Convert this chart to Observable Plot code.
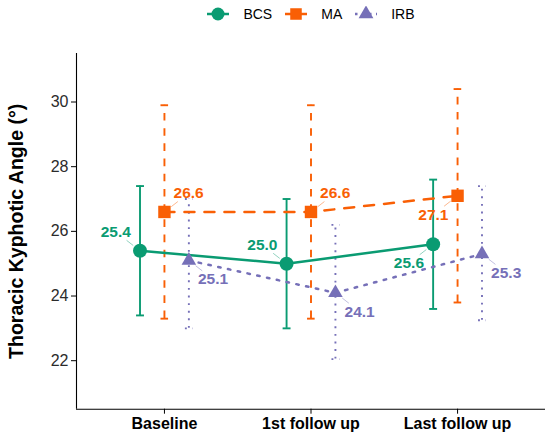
<!DOCTYPE html>
<html><head><meta charset="utf-8">
<script src="https://cdn.jsdelivr.net/npm/d3@7"></script>
<script src="https://cdn.jsdelivr.net/npm/@observablehq/plot@0.6"></script>
<style>
body{margin:0;background:#fff;font-family:"Liberation Sans",Arial,sans-serif;}
#legend{height:28px;display:flex;align-items:center;justify-content:center;padding-left:76px;padding-right:5px;font-size:14px;color:#000;}
.item{display:flex;align-items:center;margin:0 6px;}
.item svg{margin-right:13px;display:block}
#chart svg g[aria-label^="x-axis"] text{font-weight:bold;fill:#000}
#chart svg g[aria-label^="y-axis"] text{fill:#2b2b2b}
</style></head><body>
<div id="legend"></div><div id="chart"></div>
<script>
// ---- data ----
const categories = ["Baseline", "1st follow up", "Last follow up"];
const series = ["BCS", "MA", "IRB"];
const bcsMean = [25.4, 25.0, 25.6];
const bcsLow  = [23.4, 23.0, 23.6];
const bcsHigh = [27.4, 27.0, 27.6];
const maMean  = [26.6, 26.6, 27.1];
const maLow   = [23.3, 23.3, 23.8];
const maHigh  = [29.9, 29.9, 30.4];
const irbMean = [25.1, 24.1, 25.3];
const irbLow  = [23.0, 22.05, 23.25];
const irbHigh = [27.0, 26.2, 27.4];

// ---- styling / layout config ----
const colors = ["#0a9b72", "#f95f05", "#7670b8"];
const dodge = [-1/6, 0, 1/6];           // position_dodge(0.5)
const labelDir = [                       // label nudge directions [x, y]
  [[-1, 1], [-1, 1], [-1, -1]],
  [[1, 1], [1, 1], [-1, -1]],
  [[1, -1], [1, -1], [1, -1]]
];
const nudgeX = 0.165, nudgeY = 0.58, cap = 0.027;

const means = [bcsMean, maMean, irbMean];
const lows = [bcsLow, maLow, irbLow];
const highs = [bcsHigh, maHigh, irbHigh];

const rows = [];
series.forEach((s, si) => {
  categories.forEach((c, ci) => {
    const x = ci + dodge[si];
    const m = means[si][ci];
    rows.push({
      series: s, cat: c, x, mean: m, lo: lows[si][ci], hi: highs[si][ci],
      lx: x + labelDir[si][ci][0] * nudgeX, ly: m + labelDir[si][ci][1] * nudgeY
    });
  });
});
const bySeries = s => rows.filter(d => d.series === s);

const lineStyle = {
  BCS: {line: null, err: null},
  MA: {line: "10,10", err: "7.6,7.6"},
  IRB: {line: "2.5,7.5", err: "1.9,5.7"}
};
const symbols = {BCS: "circle", MA: "square", IRB: "triangle"};
const radius = {BCS: 7, MA: 7, IRB: 5.4};

const marks = [];
for (const s of series) {
  const d = bySeries(s);
  marks.push(Plot.ruleX(d, {x: "x", y1: "lo", y2: "hi", stroke: "series", strokeWidth: 1.9, strokeDasharray: lineStyle[s].err}));
  marks.push(Plot.link(d, {x1: r => r.x - cap, x2: r => r.x + cap, y1: "lo", y2: "lo", stroke: "series", strokeWidth: 1.9, strokeDasharray: lineStyle[s].err}));
  marks.push(Plot.link(d, {x1: r => r.x - cap, x2: r => r.x + cap, y1: "hi", y2: "hi", stroke: "series", strokeWidth: 1.9, strokeDasharray: lineStyle[s].err}));
}
for (const s of series) {
  marks.push(Plot.line(bySeries(s), {x: "x", y: "mean", stroke: "series", strokeWidth: 2.5, strokeDasharray: lineStyle[s].line}));
}
marks.push(Plot.arrow(rows, {x1: "x", y1: "mean", x2: "lx", y2: "ly", stroke: "series", strokeOpacity: 0.5, strokeWidth: 0.9, headLength: 0, insetStart: 9, insetEnd: 14}));
for (const s of series) {
  marks.push(Plot.dot(bySeries(s), {x: "x", y: "mean", fill: "series", symbol: () => symbols[s], r: radius[s]}));
}
marks.push(Plot.text(rows, {x: "lx", y: "ly", text: d => d.mean.toFixed(1), fill: "series", fontSize: 15.5, fontWeight: "bold"}));
marks.push(Plot.ruleX([-0.6], {stroke: "#000", strokeWidth: 1.1}));
marks.push(Plot.ruleY([20.5], {stroke: "#000", strokeWidth: 1.1}));
marks.push(Plot.text(["Thoracic Kyphotic Angle (°)"], {frameAnchor: "left", textAnchor: "middle", lineAnchor: "middle", rotate: -90, dx: -60, fontSize: 19.5, fontWeight: "bold", fill: "#000"}));

const chart = Plot.plot({
  width: 550,
  height: 410,
  marginTop: 25,
  marginBottom: 29.3,
  marginLeft: 76,
  marginRight: 5,
  style: {fontFamily: "'Liberation Sans', Arial, sans-serif", fontSize: "16px", color: "#000", background: "#fff"},
  x: {type: "linear", domain: [-0.6, 2.6], ticks: 3, tickFormat: i => categories[Math.round(i)], tickSize: 5, tickPadding: 3, label: null},
  y: {domain: [20.5, 31.5], ticks: 5, tickSize: 5, tickPadding: 3, label: null},
  color: {domain: series, range: colors},
  symbol: {domain: ["circle", "square", "triangle"], range: ["circle", "square", "triangle"]},
  marks
});
document.getElementById("chart").appendChild(chart);

// ---- legend ----
const legend = d3.select("#legend");
series.forEach((s, i) => {
  const item = legend.append("div").attr("class", "item");
  const svg = item.append("svg").attr("width", 24).attr("height", 16);
  svg.append("line").attr("x1", 1).attr("x2", 23).attr("y1", 8).attr("y2", 8)
    .attr("stroke", colors[i]).attr("stroke-width", 2.5)
    .attr("stroke-dasharray", s === "IRB" ? "2.5,4.5" : null);
  svg.append("path").attr("transform", "translate(12,8)")
    .attr("d", d3.symbol(s === "BCS" ? d3.symbolCircle : s === "MA" ? d3.symbolSquare : d3.symbolTriangle, Math.PI * (s === "IRB" ? 5.5 : 6.5) ** 2)())
    .attr("fill", colors[i]);
  item.append("span").text(s);
});
</script></body></html>
